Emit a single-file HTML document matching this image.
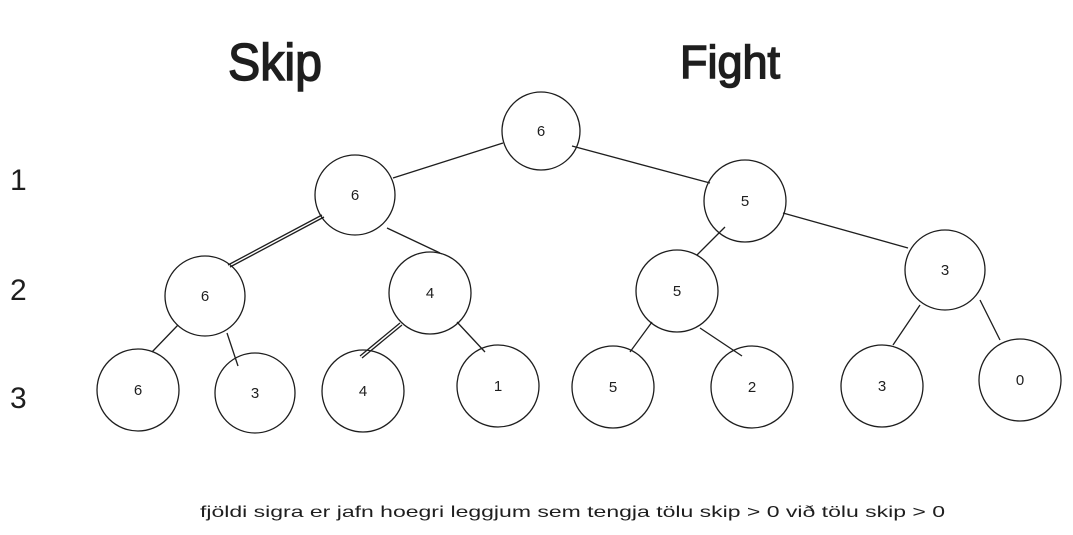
<!DOCTYPE html>
<html><head><meta charset="utf-8"><style>
html,body{margin:0;padding:0;background:#fff;}
svg{display:block;}
text{font-family:"Liberation Sans",sans-serif;fill:#1e1e1e;}
</style></head><body>
<svg width="1073" height="535" viewBox="0 0 1073 535" xmlns="http://www.w3.org/2000/svg">
<g fill="none" stroke="#1e1e1e" stroke-width="1.3">
<circle cx="541" cy="131" r="39"/>
<circle cx="355" cy="195" r="40"/>
<circle cx="745" cy="201" r="41"/>
<circle cx="205" cy="296" r="40"/>
<circle cx="430" cy="293" r="41"/>
<circle cx="677" cy="291" r="41"/>
<circle cx="945" cy="270" r="40"/>
<circle cx="138" cy="390" r="41"/>
<circle cx="255" cy="393" r="40"/>
<circle cx="363" cy="391" r="41"/>
<circle cx="498" cy="386" r="41"/>
<circle cx="613" cy="387" r="41"/>
<circle cx="752" cy="387" r="41"/>
<circle cx="882" cy="386" r="41"/>
<circle cx="1020" cy="380" r="41"/>
<path d="M503 143 L393 178"/>
<path d="M572 146 L710 183"/>
<path d="M322 215 L228 265 M324 217 L230 267"/>
<path d="M387 228 L440 253"/>
<path d="M725 227 L697 255"/>
<path d="M783 213 L908 248"/>
<path d="M178 325 L152 352"/>
<path d="M227 333 L238 366"/>
<path d="M400 323 L360 356 M402 325 L362 358"/>
<path d="M457 322 L485 352"/>
<path d="M652 322 L630 352"/>
<path d="M700 328 L742 356"/>
<path d="M920 305 L893 345"/>
<path d="M980 300 L1000 340"/>
</g>
<g font-size="15" text-anchor="middle">
<text x="541" y="136">6</text>
<text x="355" y="200">6</text>
<text x="745" y="206">5</text>
<text x="205" y="301">6</text>
<text x="430" y="298">4</text>
<text x="677" y="296">5</text>
<text x="945" y="275">3</text>
<text x="138" y="395">6</text>
<text x="255" y="398">3</text>
<text x="363" y="396">4</text>
<text x="498" y="391">1</text>
<text x="613" y="392">5</text>
<text x="752" y="392">2</text>
<text x="882" y="391">3</text>
<text x="1020" y="385">0</text>
</g>
<g font-size="30">
<text x="10" y="190">1</text>
<text x="10" y="300">2</text>
<text x="10" y="408">3</text>
</g>
<text x="228" y="80" font-size="52" textLength="94" lengthAdjust="spacingAndGlyphs" stroke="#1e1e1e" stroke-width="1.5">Skip</text>
<text x="680" y="78" font-size="46" textLength="100" lengthAdjust="spacingAndGlyphs" stroke="#1e1e1e" stroke-width="1.5">Fight</text>
<text x="200" y="517" font-size="16" textLength="745" lengthAdjust="spacingAndGlyphs">fjöldi sigra er jafn hoegri leggjum sem tengja tölu skip &gt; 0 við tölu skip &gt; 0</text>
</svg>
</body></html>
